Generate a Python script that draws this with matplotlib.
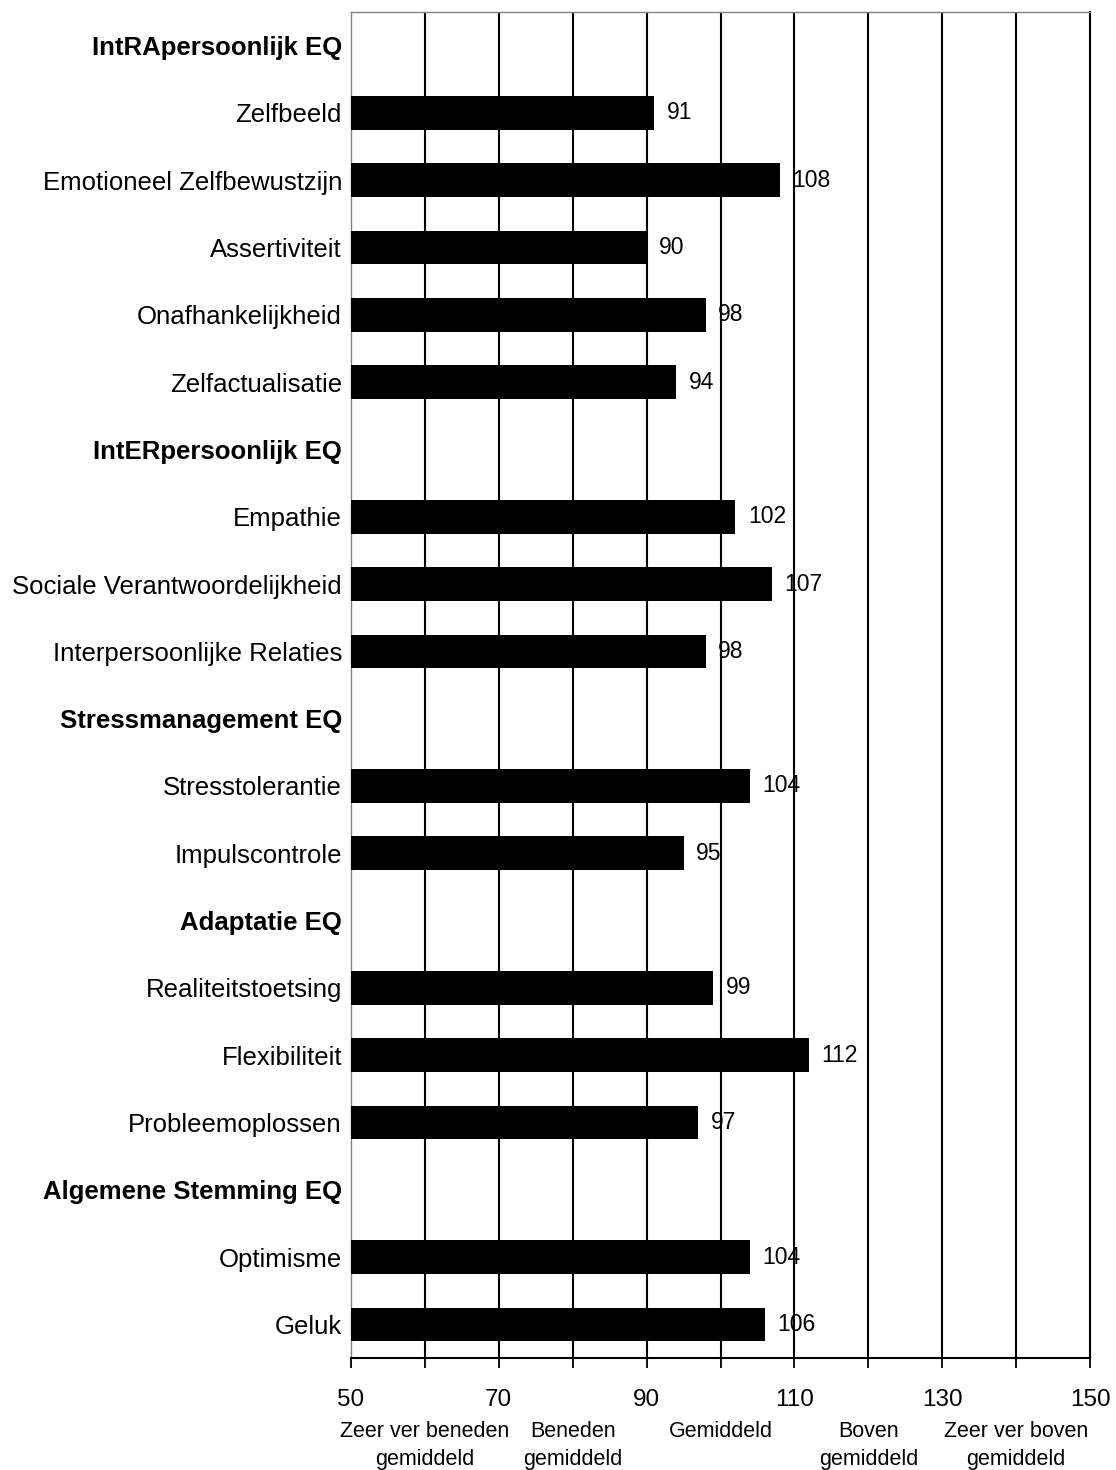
import matplotlib
matplotlib.use("Agg")
import matplotlib.pyplot as plt
from matplotlib.ticker import MultipleLocator

labels = ["IntRApersoonlijk EQ", "Zelfbeeld", "Emotioneel Zelfbewustzijn", "Assertiviteit",
          "Onafhankelijkheid", "Zelfactualisatie", "IntERpersoonlijk EQ", "Empathie",
          "Sociale Verantwoordelijkheid", "Interpersoonlijke Relaties", "Stressmanagement EQ",
          "Stresstolerantie", "Impulscontrole", "Adaptatie EQ", "Realiteitstoetsing",
          "Flexibiliteit", "Probleemoplossen", "Algemene Stemming EQ", "Optimisme", "Geluk"]
scores = [None, 91, 108, 90, 98, 94, None, 102, 107, 98, None, 104, 95, None, 99, 112, 97,
          None, 104, 106]
tick_values = [50, 70, 90, 110, 130, 150]
band_centers = [60, 80, 100, 120, 140]
band_labels = ["Zeer ver beneden\ngemiddeld", "Beneden\ngemiddeld", "Gemiddeld",
               "Boven\ngemiddeld", "Zeer ver boven\ngemiddeld"]

plt.rcParams['font.family'] = ['Liberation Sans', 'DejaVu Sans']

fig = plt.figure(figsize=(11.16, 14.70), dpi=100)
ax = fig.add_axes([351/1116, 1 - 1358/1470, (1090-351)/1116, (1358-12)/1470])

base = 50
for i, (lab, v) in enumerate(zip(labels, scores)):
    if v is None:
        continue
    ax.barh(i, v - base, left=base, height=0.5, color='black', zorder=3)
    ax.annotate(str(v), xy=(v, i), xytext=(9, 0), textcoords='offset points',
                va='center', ha='left', fontsize=16.5, zorder=4)

ax.set_xlim(50, 150)
ax.set_ylim(len(labels) - 0.5, -0.5)
ax.set_yticks(range(len(labels)))
ax.set_yticklabels(labels, fontsize=18.5)
for t, v in zip(ax.get_yticklabels(), scores):
    if v is None:
        t.set_fontweight('bold')
ax.tick_params(axis='y', length=0, pad=6.5)

ax.xaxis.set_major_locator(MultipleLocator(10))
ax.set_xticklabels([str(int(x)) if int(x) in tick_values else '' for x in ax.get_xticks()])
ax.tick_params(axis='x', length=7, width=1.3, direction='out', labelsize=17.5, pad=15)

for x in range(60, 150, 10):
    ax.axvline(x, color='black', lw=1.5, zorder=1)

for s in ['left', 'top']:
    ax.spines[s].set_color('#808080')
    ax.spines[s].set_linewidth(1.0)
ax.spines['right'].set_color('black')
ax.spines['right'].set_linewidth(1.5)
ax.spines['bottom'].set_color('black')
ax.spines['bottom'].set_linewidth(1.5)

trans = ax.get_xaxis_transform()
for c, t in zip(band_centers, band_labels):
    ax.text(c, -0.047, t, transform=trans, ha='center', va='top', fontsize=15.5,
            linespacing=1.42)

fig.savefig("out.png", dpi=100)
